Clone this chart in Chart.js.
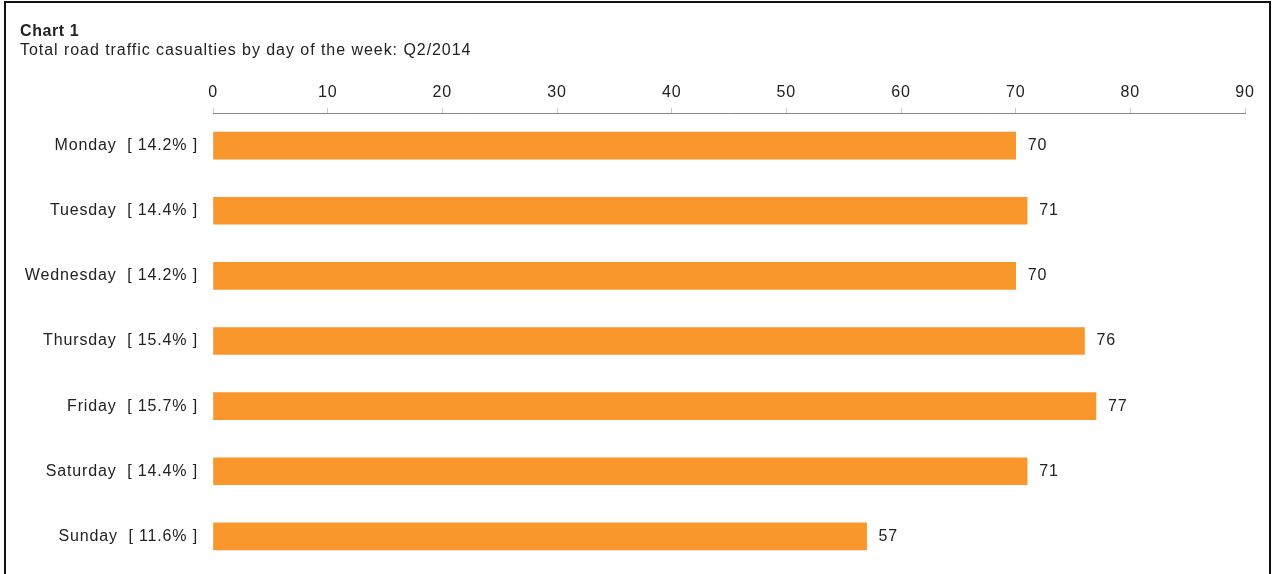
<!DOCTYPE html>
<html>
<head>
<meta charset="utf-8">
<script src="https://cdn.jsdelivr.net/npm/chart.js@4.4.0/dist/chart.umd.min.js"></script>
<style>
    html, body { margin: 0; padding: 0; background: #fff; }
    body { width: 1276px; height: 574px; position: relative; overflow: hidden; font-family: "Liberation Sans", Arial, sans-serif; color: #222; }
    #frame { position: absolute; left: 4px; top: 1px; width: 1263px; height: 600px; border: 2px solid #111; border-bottom: none; }
    .title { position: absolute; left: 20px; font-size: 16px; line-height: 18px; white-space: nowrap; letter-spacing: 0.95px; }
    #t1 { top: 22px; font-weight: bold; letter-spacing: 0.6px; }
    #t2 { top: 41px; }
    #wrap { position: absolute; left: 0; top: 0; width: 1276px; height: 574px; }
</style>
</head>
<body>
<div id="wrap"><canvas id="chart"></canvas></div>
<div id="frame"></div>
<div class="title" id="t1">Chart 1</div>
<div class="title" id="t2">Total road traffic casualties by day of the week: Q2/2014</div>
<script>
    // ==================== DATA ====================
    const days = ['Monday', 'Tuesday', 'Wednesday', 'Thursday', 'Friday', 'Saturday', 'Sunday'];
    const shares = ['14.2%', '14.4%', '14.2%', '15.4%', '15.7%', '14.4%', '11.6%'];
    const casualties = [70, 71, 70, 76, 77, 71, 57];
    const xTicks = [0, 10, 20, 30, 40, 50, 60, 70, 80, 90];

    const labels = days.map((d, i) => `${d}  [ ${shares[i]} ]`);
    const FONT = '"Liberation Sans", Arial, sans-serif';
    const SPACING = '0.85px';

    // -------------------- slightly wider text like the original --------------------
    const spacing = {
        id: 'spacing',
        beforeUpdate(chart) { chart.ctx.letterSpacing = SPACING; },
        beforeDraw(chart) { chart.ctx.letterSpacing = SPACING; }
    };

    // -------------------- value labels at bar ends --------------------
    const valueLabels = {
        id: 'valueLabels',
        afterDatasetsDraw(chart) {
            const ctx = chart.ctx;
            const meta = chart.getDatasetMeta(0);
            ctx.save();
            ctx.font = `16px ${FONT}`;
            ctx.letterSpacing = SPACING;
            ctx.fillStyle = '#222';
            ctx.textAlign = 'left';
            ctx.textBaseline = 'middle';
            meta.data.forEach((bar, i) => {
                ctx.fillText(String(casualties[i]), bar.x + 12, bar.y);
            });
            ctx.restore();
        }
    };

    new Chart(document.getElementById('chart'), {
        type: 'bar',
        data: {
            labels: labels,
            datasets: [{
                data: casualties,
                backgroundColor: '#F9962C',
                borderWidth: 0,
                barThickness: 27
            }]
        },
        options: {
            indexAxis: 'y',
            responsive: true,
            maintainAspectRatio: false,
            animation: false,
            layout: { padding: { left: 0, right: 31, top: 0, bottom: 5 } },
            plugins: { legend: { display: false }, tooltip: { enabled: false } },
            scales: {
                x: {
                    position: 'top',
                    min: 0,
                    max: 90,
                    afterFit: (scale) => { scale.height = 113; },
                    afterBuildTicks: (scale) => { scale.ticks = xTicks.map(v => ({ value: v })); },
                    grid: { drawOnChartArea: false, drawTicks: true, tickLength: 5, color: '#c8c8c8' },
                    border: { display: true, color: '#888', width: 1 },
                    ticks: { padding: 6, color: '#222', font: { family: FONT, size: 16 } }
                },
                y: {
                    afterFit: (scale) => {
                        scale.width = 213;
                        scale.paddingTop = 0;
                        scale.paddingBottom = 0;
                    },
                    grid: { display: false, drawTicks: false },
                    border: { display: false },
                    ticks: { padding: 15, color: '#222', font: { family: FONT, size: 16 } }
                }
            }
        },
        plugins: [spacing, valueLabels]
    });
</script>
</body>
</html>
